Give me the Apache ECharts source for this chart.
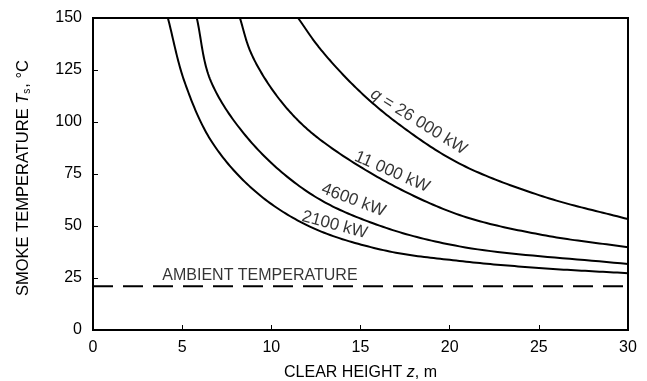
<!DOCTYPE html>
<html>
<head>
<meta charset="utf-8">
<script src="https://cdn.jsdelivr.net/npm/echarts@6/dist/echarts.min.js"></script>
<style>
  html, body { margin: 0; padding: 0; background: #fff; }
  #chart { width: 647px; height: 381px; }
</style>
</head>
<body>
<div id="chart"></div>
<script>
// Clear height z (m) and smoke temperature Ts (°C) for each heat release rate
const z2100 = [4.2, 5.13, 6.66, 9.08, 12.16, 16.28, 20.55, 25.2, 30];
const t2100 = [150, 119.4, 90.5, 66.8, 49.7, 38.4, 33.2, 29.7, 27.3];

const z4600 = [5.82, 6.62, 8.9, 12.16, 15.7, 20.55, 30];
const t4600 = [150, 119.4, 90, 65.7, 51.3, 40.2, 31.7];

const z11000 = [8.24, 8.81, 9.75, 11.03, 12.62, 16.26, 20.55, 25.2, 30];
const t11000 = [150, 134.2, 119.4, 105, 92.3, 72.1, 55.3, 45.7, 39.8];

const z26000 = [11.5, 12.72, 14.86, 17.2, 20.55, 25.2, 30];
const t26000 = [150, 135.4, 115.5, 98.6, 80, 64.3, 53.3];

// Ambient temperature line
const ambientZ = [0, 30];
const ambientT = [21, 21];

// Axis ticks
const xTicks = [0, 5, 10, 15, 20, 25, 30];
const yTicks = [0, 25, 50, 75, 100, 125, 150];

// Curve labels: text, anchor (z, Ts) and slope angle
const labelText = ['{i|q} = 26 000 kW', '11 000 kW', '4600 kW', '2100 kW', 'AMBIENT TEMPERATURE'];
const labelZ = [18.26, 16.77, 14.61, 13.55, 9.36];
const labelT = [100.2, 76, 62.4, 50.5, 26];
const labelAngle = [-32, -23.5, -20.5, -15, 0];
const labelSize = [17, 17, 17, 17, 16];

const FONT = '"Liberation Sans", Arial, sans-serif';
const INK = '#000';

function pairs(xs, ys) { return xs.map((x, i) => [x, ys[i]]); }

// Centripetal Catmull-Rom through pixel points, sampled into a dense polyline
function splinePoints(pts, steps) {
  const n = pts.length;
  if (n < 3) return pts.slice();
  const out = [pts[0]];
  const dist = (a, b) => Math.pow(Math.hypot(b[0] - a[0], b[1] - a[1]), 0.5) || 1e-6;
  for (let i = 0; i < n - 1; i++) {
    const p1 = pts[i], p2 = pts[i + 1];
    const p0 = i > 0 ? pts[i - 1] : [2 * p1[0] - p2[0], 2 * p1[1] - p2[1]];
    const p3 = i < n - 2 ? pts[i + 2] : [2 * p2[0] - p1[0], 2 * p2[1] - p1[1]];
    const t0 = 0, t1 = t0 + dist(p0, p1), t2 = t1 + dist(p1, p2), t3 = t2 + dist(p2, p3);
    for (let s = 1; s <= steps; s++) {
      const t = t1 + (t2 - t1) * s / steps;
      const mix = (a, b, ta, tb) => [
        (tb - t) / (tb - ta) * a[0] + (t - ta) / (tb - ta) * b[0],
        (tb - t) / (tb - ta) * a[1] + (t - ta) / (tb - ta) * b[1]
      ];
      const a1 = mix(p0, p1, t0, t1), a2 = mix(p1, p2, t1, t2), a3 = mix(p2, p3, t2, t3);
      const b1 = mix(a1, a2, t0, t2), b2 = mix(a2, a3, t1, t3);
      out.push(mix(b1, b2, t1, t2));
    }
  }
  return out;
}

function curve(name, xs, ys) {
  return {
    name: name,
    type: 'custom',
    data: pairs(xs, ys),
    encode: { x: 0, y: 1 },
    silent: true,
    clip: true,
    z: 3,
    renderItem: function (params, api) {
      if (params.dataIndex !== 0) return null;
      const px = xs.map((x, i) => api.coord([x, ys[i]]));
      return {
        type: 'polyline',
        shape: { points: splinePoints(px, 24) },
        style: { stroke: INK, lineWidth: 2, fill: null, lineJoin: 'round' }
      };
    }
  };
}

const chart = echarts.init(document.getElementById('chart'), null, { renderer: 'canvas' });

chart.setOption({
  animation: false,
  backgroundColor: '#fff',
  textStyle: { fontFamily: FONT },
  grid: {
    left: 93, right: 19, top: 18, bottom: 51,
    containLabel: false,
    outerBoundsMode: 'none',
    show: true, borderColor: INK, borderWidth: 2, backgroundColor: 'transparent'
  },
  xAxis: {
    type: 'value',
    min: xTicks[0], max: xTicks[xTicks.length - 1], interval: 5,
    name: 'CLEAR HEIGHT {i|z}, m',
    nameLocation: 'middle',
    nameGap: 35,
    nameTextStyle: {
      color: INK, fontSize: 16, fontFamily: FONT,
      rich: { i: { fontStyle: 'italic', fontSize: 16, fontFamily: FONT, color: INK } }
    },
    axisLine: { show: true, lineStyle: { color: INK, width: 2 } },
    axisTick: { show: true, inside: true, length: 5, lineStyle: { color: INK, width: 1 } },
    axisLabel: { color: INK, fontSize: 16, fontFamily: FONT, margin: 10 },
    splitLine: { show: false }
  },
  yAxis: {
    type: 'value',
    min: yTicks[0], max: yTicks[yTicks.length - 1], interval: 25,
    name: 'SMOKE TEMPERATURE {i|T}{s|s}, °C',
    nameLocation: 'middle',
    nameGap: 61,
    nameRotate: 90,
    nameTextStyle: {
      color: INK, fontSize: 16.5, fontFamily: FONT,
      padding: [0, 8, 0, 0],
      rich: {
        i: { fontStyle: 'italic', fontSize: 16.5, fontFamily: FONT, color: INK },
        s: { fontSize: 10, fontFamily: FONT, color: INK, verticalAlign: 'bottom', padding: [8, 1, 0, 0] }
      }
    },
    axisLine: { show: true, lineStyle: { color: INK, width: 2 } },
    axisTick: { show: true, inside: true, length: 5, lineStyle: { color: INK, width: 1 } },
    axisLabel: { color: INK, fontSize: 16, fontFamily: FONT, margin: 11 },
    splitLine: { show: false }
  },
  series: [
    curve('2100 kW', z2100, t2100),
    curve('4600 kW', z4600, t4600),
    curve('11 000 kW', z11000, t11000),
    curve('26 000 kW', z26000, t26000),
    {
      name: 'ambient',
      type: 'line',
      data: pairs(ambientZ, ambientT),
      showSymbol: false,
      silent: true,
      lineStyle: { color: INK, width: 2, type: [20, 10] },
      z: 2
    },
    {
      name: 'labels',
      type: 'scatter',
      symbolSize: 0,
      silent: true,
      data: labelText.map((t, i) => ({
        value: [labelZ[i], labelT[i]],
        label: {
          show: true,
          position: 'inside',
          rotate: labelAngle[i],
          formatter: t,
          color: INK,
          fontSize: labelSize[i],
          fontFamily: FONT,
          rich: { i: { fontStyle: 'italic', fontSize: labelSize[i], fontFamily: FONT, color: INK } }
        }
      })),
      z: 5
    }
  ]
});
</script>
</body>
</html>
